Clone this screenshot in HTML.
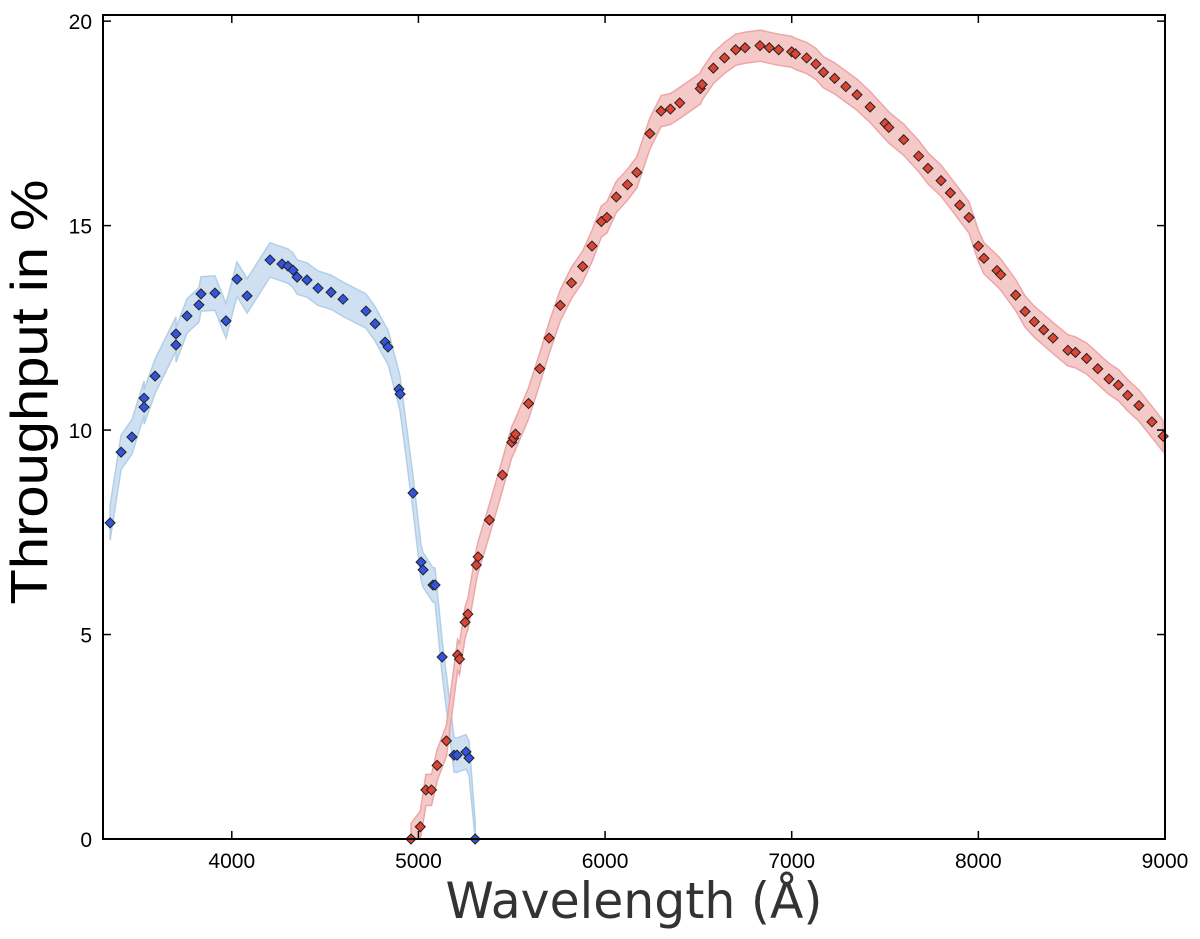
<!DOCTYPE html>
<html><head><meta charset="utf-8"><style>
body{margin:0;background:#fff;}
svg text{font-family:"Liberation Sans",sans-serif;}
</style></head><body>
<svg id="chart" width="1200" height="934" xmlns="http://www.w3.org/2000/svg">
<g id="bands"></g>
<g id="marks"></g>
<rect x="103" y="15" width="1062" height="824" fill="none" stroke="#000" stroke-width="2"/>
<g id="axes"></g>
<text transform="translate(47,392) rotate(-90)" text-anchor="middle" font-size="52" textLength="425" lengthAdjust="spacingAndGlyphs" fill="#000">Throughput in %</text>
<text x="634" y="918" text-anchor="middle" font-size="50" textLength="377" lengthAdjust="spacingAndGlyphs" fill="#333" style="font-family:'DejaVu Sans',sans-serif">Wavelength (Å)</text>
</svg>
<script>
const blueX=[3348,3407,3465,3530,3530,3589,3701,3701,3760,3824,3835,3910,3969,4028,4082,4205,4269,4301,4328,4350,4403,4462,4532,4596,4719,4768,4821,4837,4896,4902,4971,5014,5025,5078,5089,5127,5191,5207,5255,5271,5304];
const blueY=[7.73,9.46,9.83,10.78,10.56,11.32,12.35,12.08,12.79,13.06,13.33,13.35,12.67,13.69,13.28,14.16,14.06,14.01,13.91,13.74,13.67,13.47,13.37,13.2,12.91,12.6,12.15,12.03,11.0,10.88,8.46,6.77,6.58,6.21,6.21,4.45,2.05,2.05,2.13,1.98,0];
const redX=[4960,5010,5040,5070,5100,5150,5210,5220,5250,5265,5310,5320,5380,5450,5500,5510,5520,5590,5650,5700,5760,5820,5880,5930,5980,6010,6060,6120,6170,6240,6300,6350,6400,6510,6520,6580,6640,6700,6750,6830,6880,6930,7000,7020,7080,7130,7170,7230,7290,7350,7420,7500,7520,7600,7680,7730,7800,7850,7900,7950,8000,8030,8100,8120,8200,8250,8300,8350,8400,8480,8520,8580,8640,8700,8750,8800,8860,8930,8990];
const redY=[0,0.3,1.2,1.2,1.8,2.4,4.5,4.4,5.3,5.5,6.7,6.9,7.8,8.9,9.7,9.8,9.9,10.65,11.5,12.25,13.05,13.6,14.0,14.5,15.1,15.2,15.7,16.0,16.3,17.25,17.8,17.85,18.0,18.35,18.45,18.85,19.1,19.3,19.35,19.4,19.35,19.3,19.25,19.2,19.1,18.95,18.75,18.6,18.4,18.2,17.9,17.5,17.4,17.1,16.7,16.4,16.1,15.8,15.5,15.2,14.5,14.2,13.9,13.8,13.3,12.9,12.65,12.45,12.25,11.95,11.9,11.75,11.5,11.25,11.1,10.85,10.6,10.2,9.85];
const xTicks=[4000,5000,6000,7000,8000,9000];
const yTicks=[0,5,10,15,20];
const X0=3310,X1=9000,Y0=0,Y1=20.15;
const L=103,R=1165,T=15,B=839;
const sx=v=>L+(v-X0)/(X1-X0)*(R-L);
const sy=v=>B-(v-Y0)/(Y1-Y0)*(B-T);
const NS="http://www.w3.org/2000/svg";
function mk(tag,attrs,parent){const e=document.createElementNS(NS,tag);for(const k in attrs)e.setAttribute(k,attrs[k]);parent.appendChild(e);return e;}
const bands=document.getElementById('bands'),marks=document.getElementById('marks'),axes=document.getElementById('axes');
function band(xs,ys,err,fill,stroke,name){
  let up=xs.map((x,i)=>sx(x).toFixed(1)+','+sy(Math.min(ys[i]+err,20.1)).toFixed(1));
  let lo=xs.map((x,i)=>sx(x).toFixed(1)+','+sy(Math.max(ys[i]-err,0)).toFixed(1)).reverse();
  const p=mk('polygon',{points:up.concat(lo).join(' '),fill:fill,stroke:stroke,'stroke-width':1.5,'fill-opacity':0.85},bands);
  
  
}
band(blueX,blueY,0.42,'#c6dbee','#b3cfe8','blue-band');
band(redX,redY,0.38,'#f5c0c0','#eca6a6','red-band');
function pts(xs,ys,fill,name){
  xs.forEach((x,i)=>{const cx=sx(x),cy=sy(ys[i]);
    const d=mk('polygon',{points:`${cx},${cy-5} ${cx+5},${cy} ${cx},${cy+5} ${cx-5},${cy}`,fill:fill,stroke:'#222','stroke-width':1},marks);
    
    
  });
}
pts(blueX,blueY,'#3355dd','blue-point');
pts(redX,redY,'#dd4433','red-point');
xTicks.forEach(v=>{const x=sx(v);
  mk('line',{x1:x,x2:x,y1:B,y2:B-8,stroke:'#000','stroke-width':1.5},axes);
  mk('line',{x1:x,x2:x,y1:T,y2:T+8,stroke:'#000','stroke-width':1.5},axes);
  const t=mk('text',{x:x,y:868,'text-anchor':'middle','font-size':21,fill:'#000'},axes);t.textContent=v;
  
  
});
yTicks.forEach(v=>{const y=sy(v);
  mk('line',{x1:L,x2:L+8,y1:y,y2:y,stroke:'#000','stroke-width':1.5},axes);
  mk('line',{x1:R,x2:R-8,y1:y,y2:y,stroke:'#000','stroke-width':1.5},axes);
  const t=mk('text',{x:92,y:y+8,'text-anchor':'end','font-size':21,fill:'#000'},axes);t.textContent=v;
  
  
});
</script>
</body></html>
